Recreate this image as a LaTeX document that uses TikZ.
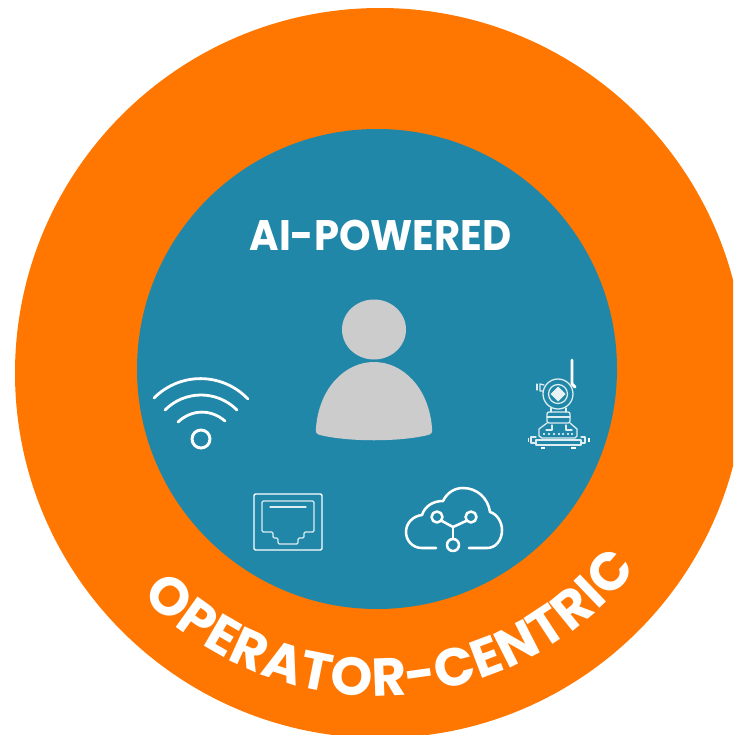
\documentclass[tikz,border=0pt]{standalone}
\usepackage{fontspec}
\setmainfont{Poppins}
\usetikzlibrary{decorations.text}
\definecolor{ringorange}{HTML}{FF7700}
\definecolor{discteal}{HTML}{2187A8}
\definecolor{persongray}{HTML}{CCCCCC}
\tikzset{
  x=.75pt,y=-.75pt,
  iconline/.style={draw=white,line width=1.9pt,line cap=round,line join=round},
  thinline/.style={draw=white,line width=1pt,line join=round,line cap=round},
  fineline/.style={draw=white!85!discteal,line width=.95pt,line join=round,line cap=round},
}
\begin{document}
\begin{tikzpicture}
\useasboundingbox (0,0) rectangle (733,735);
\clip (0,0) rectangle (733,735);
\fill[ringorange] (380,373) circle [radius=365];
\fill[discteal] (377,369) circle [radius=240];
% headline
\node[text=white,font=\fontsize{32}{36}\selectfont\bfseries,inner sep=0pt,xscale=.94] (headline) at (380.5,235) {AI-POWERED};
% person
\fill[persongray] (374,329.5) ellipse [x radius=32,y radius=30];
\fill[persongray] (316,428) .. controls (319,388) and (345,362) .. (374,362)
  .. controls (403,362) and (429,388) .. (432,428)
  .. controls (433,433) and (431,434) .. (428,435)
  .. controls (400,442) and (348,442) .. (320,435)
  .. controls (317,434) and (315,433) .. (316,428) -- cycle;
% wifi
\draw[iconline,line width=2.1pt] (154,398) .. controls (180,372) and (222,372) .. (248,399);
\draw[iconline,line width=2.1pt] (165,410) .. controls (185,390) and (217,390) .. (237,410);
\draw[iconline,line width=2.1pt] (178,422) .. controls (192,409) and (211,409) .. (225,421);
\draw[draw=white,line width=2.2pt] (201,439) circle [radius=9];
% network socket
\draw[thinline,rounded corners=1] (254,494) rectangle (322,550);
\draw[fineline,rounded corners=1] (262,501) -- (314,501) -- (314,532) -- (304,532) -- (304,538) -- (298,538) -- (298,544)
  -- (278,544) -- (278,538) -- (273,538) -- (273,532) -- (262,532) -- cycle;
\draw[fineline] (270,507) -- (306,507);
% cloud
\draw[iconline] (436,548) -- (422,548) .. controls (412,548) and (406,540) .. (406,532)
  .. controls (406,523) and (413,516) .. (422,515)
  .. controls (425,506) and (433,501) .. (443,501)
  .. controls (447,493) and (454,488) .. (463,488)
  .. controls (477,488) and (488,498) .. (490,512)
  .. controls (497,514) and (502,522) .. (502,530)
  .. controls (502,540) and (496,548) .. (487,548) -- (469,548);
\draw[iconline] (437,517) circle [radius=5.5];
\draw[iconline] (471,517) circle [radius=5.5];
\draw[iconline] (453,545) circle [radius=6];
\draw[iconline] (442,521) -- (453,527) -- (466,521);
\draw[iconline] (453,527) -- (453,539);
% transmitter
\draw[draw=white,line width=2.2pt,line cap=round] (572,360) -- (572,384) -- (575,387);
\draw[fineline] (558,394) circle [radius=15];
\draw[fineline] (558,394) circle [radius=9.5];
\fill[white!90!discteal] (558,386.5) -- (565.5,394) -- (558,401.5) -- (550.5,394) -- cycle;
\draw[fineline] (544,385) -- (540,384) -- (540,391) -- (543,391);
\draw[fineline] (537,384) -- (537,390);
\draw[fineline] (551,408) -- (551,412) (566,408) -- (566,412);
\draw[fineline,rounded corners=1.5] (547,412) rectangle (570,423);
\draw[fineline] (547,417) -- (570,417);
\draw[fineline] (547,423) -- (539,429) -- (539,436) -- (542,438) -- (575,438) -- (577,436) -- (577,429) -- (570,423);
\draw[fineline] (552,425) -- (552,430) -- (546,430);
\draw[fineline] (566,425) -- (566,430) -- (572,430);
\foreach \dotx in {544,549,554,559,563,568,572}
  \fill[white] (\dotx,434) circle [radius=1.1];
\draw[fineline] (536,440) rectangle (581,445);
\draw[fineline] (536,437) -- (531,437) -- (531,443) -- (536,443);
\draw[fineline] (581,437) -- (585,437) -- (585,443) -- (581,443);
\fill[white] (527.5,438) rectangle (529,442);
\fill[white] (588,438) rectangle (589.5,442);
\fill[white] (541,446.5) rectangle (545,449);
\fill[white] (571,446.5) rectangle (576,449);
% ring text
\path[postaction={decorate,decoration={text along path,text align={fit to path},
  text={|\fontsize{40}{44}\selectfont\bfseries\color{white}|OPERATOR-CENTRIC}}}]
  (377,369) ++(136:327) arc [start angle=136,end angle=37.5,radius=327];
\end{tikzpicture}
\end{document}
